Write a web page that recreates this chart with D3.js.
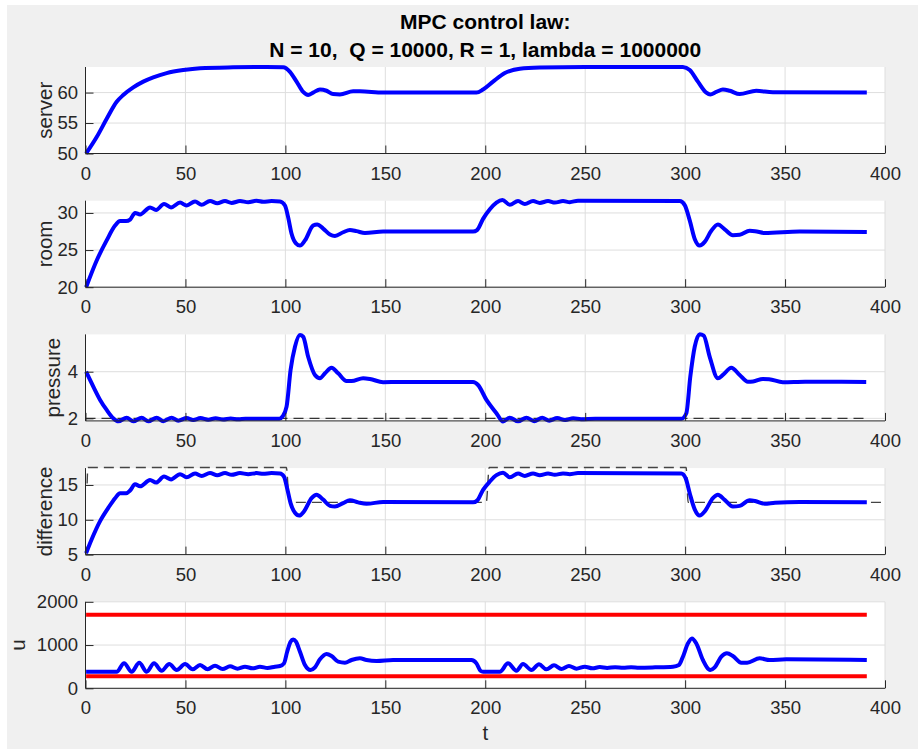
<!DOCTYPE html>
<html>
<head>
<meta charset="utf-8">
<script src="https://cdn.jsdelivr.net/npm/d3@7"></script>
<style>
  body { margin: 0; background: #fff; }
  svg text { font-family: "Liberation Sans", Arial, sans-serif; fill: #262626; }
</style>
</head>
<body>
<div id="chart"></div>
<script>
// values (t, value)
const titleLines = ['MPC control law:', 'N = 10,  Q = 10000, R = 1, lambda = 1000000']
const xTicks = [0, 50, 100, 150, 200, 250, 300, 350, 400]
const xLabel = 't'

const server = [[0.3,50],[5.6,52.7],[10.6,55.7],[15.6,58.5],[18.9,59.6],[23.9,60.85],[28.9,61.8],[33.9,62.5],[40.6,63.2],[48.9,63.7],[57.3,64.0],[73.9,64.15],[90.6,64.2],[98.9,64.15],[102.3,63.4],[105.6,61.8],[108.9,60.1],[111.4,59.6],[113.9,60.0],[117.3,60.5],[120.6,60.3],[123.9,59.75],[127.3,59.7],[133.9,60.2],[137.3,60.2],[148.9,60.0],[195.6,60.0],[198.9,60.5],[203.9,61.8],[209.8,63.2],[217.3,63.9],[227.3,64.1],[250,64.2],[298.9,64.2],[302.3,63.7],[306.4,61.8],[310.6,60.0],[312.6,59.7],[315.6,60.1],[318.9,60.5],[322.3,60.3],[327.3,59.75],[335.6,60.3],[343.9,60.05],[390.9,60.0]]

const room = [[0.3,20],[5.6,23.6],[10.6,26.3],[14.8,28.3],[17.3,28.9],[20.3,28.9],[22.3,29.1],[24.8,30.0],[27.3,29.8],[32.3,30.75],[35.3,30.4],[39.3,31.2],[42.8,30.75],[47.3,31.4],[50.6,31.0],[54.8,31.55],[58.1,31.1],[62.3,31.6],[65.9,31.3],[69.8,31.6],[73.1,31.35],[77.3,31.6],[81.4,31.45],[85.6,31.65],[88.9,31.5],[93.1,31.6],[97.3,31.55],[99.8,31.0],[101.4,29.4],[103.1,27.2],[105.3,25.9],[107.3,25.6],[109.8,26.3],[113.9,28.3],[115.9,28.45],[118.9,27.9],[122.3,27.1],[124.8,26.9],[128.9,27.4],[132.3,27.7],[135.6,27.55],[139.8,27.3],[148.9,27.5],[193.9,27.5],[195.9,27.7],[198.9,29.2],[202.3,30.5],[205.6,31.4],[208.6,31.75],[212.3,31.1],[216.4,31.6],[219.8,31.2],[223.9,31.6],[227.3,31.35],[231.4,31.6],[234.8,31.4],[238.9,31.6],[242.3,31.45],[246.4,31.65],[297.3,31.6],[299.8,31.05],[302.3,29.0],[304.8,26.5],[307.3,25.6],[309.8,26.1],[313.1,27.6],[316.4,28.45],[319.8,27.8],[323.9,27.0],[327.3,27.05],[332.3,27.6],[335,27.55],[339.8,27.3],[357.3,27.5],[390.9,27.45]]

const pressure = [[0.3,4.0],[3.9,3.36],[7.3,2.79],[10.6,2.36],[13.9,2.0],[16.4,1.87],[20.6,2.03],[23.9,1.87],[28.1,2.03],[31.4,1.87],[35.6,2.03],[38.9,1.88],[43.1,2.03],[46.4,1.9],[50.6,2.01],[53.9,1.93],[57.5,2.01],[61.4,1.94],[65.1,2.0],[68.9,1.95],[72.6,1.99],[76.4,1.96],[80,1.98],[97,1.98],[98.6,2.08],[100.6,2.5],[102.6,4.07],[104.8,5.07],[107.3,5.57],[108.9,5.5],[111.4,4.64],[114.8,3.86],[117.3,3.72],[119.8,3.93],[123.1,4.17],[126.4,3.93],[130.6,3.6],[133.1,3.6],[138.9,3.72],[142.3,3.69],[148.9,3.55],[157.3,3.56],[193.9,3.56],[196.4,3.43],[200.6,2.79],[205.6,2.22],[208.9,1.86],[212.3,2.03],[216.4,1.87],[220.6,2.03],[224.5,1.88],[228.5,2.02],[232,1.9],[236,2.01],[240,1.93],[244,2.0],[248,1.96],[255,1.98],[298.1,1.98],[300.6,2.22],[302.6,3.79],[304.8,5.07],[307.3,5.61],[309.3,5.55],[312.3,4.64],[316.4,3.72],[318.9,3.86],[323.1,4.17],[327.3,3.86],[331.4,3.57],[334,3.58],[338.9,3.69],[342,3.68],[348.9,3.55],[360,3.57],[390.6,3.56]]
const pressureRef = [[0,2],[390.6,2]]

const difference = [[0.3,5.2],[3.1,7.2],[7.3,9.8],[11.4,11.7],[14.8,13.1],[17.3,13.8],[20.3,13.8],[22.3,14.2],[24.8,15.1],[27.3,14.8],[32.3,15.7],[35.3,15.35],[39.3,16.2],[42.8,15.8],[47.3,16.55],[50.6,16.1],[54.8,16.65],[58.1,16.3],[62.3,16.7],[65.9,16.4],[69.8,16.7],[73.1,16.45],[77.3,16.7],[81.4,16.55],[85.6,16.7],[88.9,16.6],[93.1,16.7],[97.3,16.65],[99.3,16.2],[100.9,14.5],[102.6,12.4],[104.8,11.0],[106.9,10.6],[109.3,11.2],[113.1,13.1],[115.6,13.6],[118.9,12.9],[122.3,12.0],[124.8,11.9],[128.9,12.4],[132.3,12.8],[136.4,12.5],[140.6,12.3],[148.9,12.55],[193.9,12.5],[195.9,12.75],[198.9,14.3],[202.3,15.5],[205.6,16.4],[208.9,16.75],[212.3,16.1],[216.4,16.65],[219.8,16.3],[223.9,16.65],[227.3,16.4],[231.4,16.65],[234.8,16.45],[238.9,16.65],[242.3,16.55],[246.4,16.7],[298.1,16.65],[300.3,15.95],[302.3,13.8],[304.8,11.5],[307.3,10.6],[309.8,11.2],[313.9,13.1],[316.4,13.6],[319.8,12.85],[323.9,11.9],[327.3,12.0],[332.3,12.8],[335,12.7],[339.8,12.3],[345,12.45],[357.3,12.55],[390.9,12.5]]
const differenceRef = [[0.8,15.2],[1.2,17.5],[100.5,17.5],[102,12.5],[200.5,12.5],[202,17.5],[300.5,17.5],[301.5,12.5],[398,12.5]]

const u = [[0.3,383],[15.6,383],[19.3,580],[23.1,383],[26.9,591],[30.6,383],[34.3,577],[38.1,406],[41.9,562],[45.6,423],[49.8,560],[53.6,438],[57.3,539],[61.1,440],[64.8,523],[68.6,446],[72.3,508],[76.1,454],[79.8,500],[83.6,461],[87.3,500],[91.1,469],[94.8,500],[97.3,515],[99.3,577],[100.9,846],[102.6,1077],[103.9,1131],[105.3,1077],[107.3,846],[109.8,539],[112.6,423],[114.8,485],[117.3,669],[120.6,792],[123.1,746],[126.4,615],[129.8,592],[133.1,654],[137.3,692],[140.6,654],[145.6,631],[153.9,654],[193.1,654],[195.6,577],[197.6,406],[198.9,383],[207.3,383],[211.4,577],[215.6,406],[218.9,562],[223.1,423],[226.9,554],[230.6,438],[234.4,531],[238.1,446],[241.9,515],[245.6,454],[249.8,500],[253.6,461],[257.3,490],[261,470],[265,488],[269,474],[273,486],[277,477],[285,485],[293.9,500],[296.9,539],[298.9,731],[301.4,1038],[303.4,1154],[305.6,1038],[308.9,654],[312.6,423],[314.8,485],[318.1,731],[320.9,808],[323.9,746],[328.1,592],[331,590],[337.3,692],[342.3,654],[350.6,669],[390.9,654]]
const uMax = [[0.3,1700],[390.9,1700]]
const uMin = [[0.3,280],[390.9,280]]

const yLabels = ['server', 'room', 'pressure', 'difference', 'u']
const yDomains = [[50, 64.2], [20, 31.65], [1.89, 5.6], [5, 17.42], [0, 2000]]
const yTicks = [[50, 55, 60], [20, 25, 30], [2, 4], [5, 10, 15], [0, 1000, 2000]]

// layout
const W = 918, H = 749
const xLeft = 85.5, xRight = 885
const panelTop0 = 67, panelStep = 133.7, panelH = 86.5
const labelX = [51.5, 51.5, 59.5, 51.5, 25]
const fmt = d3.format('d')

const panels = [
  { lines: [{ data: server, color: '#0000ff', w: 4 }] },
  { lines: [{ data: room, color: '#0000ff', w: 4 }] },
  { lines: [{ data: pressureRef, color: '#333', w: 1.4, dash: '10,6' },
            { data: pressure, color: '#0000ff', w: 4 }] },
  { lines: [{ data: differenceRef, color: '#444', w: 1.4, dash: '10,6' },
            { data: difference, color: '#0000ff', w: 4 }] },
  { lines: [{ data: uMax, color: '#ff0000', w: 4 },
            { data: uMin, color: '#ff0000', w: 4 },
            { data: u, color: '#0000ff', w: 4 }] }
]

const svg = d3.select('#chart').append('svg')
  .attr('width', W).attr('height', H)

svg.append('rect').attr('x', 7).attr('y', 5)
  .attr('width', W - 7).attr('height', H - 5).attr('fill', '#f0f0f0')

const xScale = d3.scaleLinear().domain([0, 400]).range([xLeft, xRight])

panels.forEach((p, i) => {
  const top = panelTop0 + i * panelStep
  const bottom = top + panelH
  const yScale = d3.scaleLinear().domain(yDomains[i]).range([bottom, top])
  const g = svg.append('g')

  // plot area
  g.append('rect').attr('x', xLeft).attr('y', top)
    .attr('width', xRight - xLeft).attr('height', panelH).attr('fill', '#fff')

  // grid
  g.append('g').selectAll('line').data(xTicks).join('line')
    .attr('x1', d => xScale(d)).attr('x2', d => xScale(d))
    .attr('y1', top).attr('y2', bottom)
    .attr('stroke', '#dedede').attr('stroke-width', 1)
  g.append('g').selectAll('line').data(yTicks[i]).join('line')
    .attr('x1', xLeft).attr('x2', xRight)
    .attr('y1', d => yScale(d)).attr('y2', d => yScale(d))
    .attr('stroke', '#dedede').attr('stroke-width', 1)

  // series
  const lineGen = d3.line().x(d => xScale(d[0])).y(d => yScale(d[1]))
    .curve(d3.curveMonotoneX)
  p.lines.forEach(s => {
    g.append('path').attr('d', lineGen(s.data))
      .attr('fill', 'none').attr('stroke', s.color)
      .attr('stroke-width', s.w)
      .attr('stroke-dasharray', s.dash || null)
      .attr('stroke-linejoin', 'round')
  })

  // axes
  const xAxis = d3.axisBottom(xScale).tickValues(xTicks).tickFormat(fmt)
    .tickSizeInner(-8).tickSizeOuter(0).tickPadding(13)
  const xg = g.append('g').attr('transform', `translate(0,${bottom})`).call(xAxis)
  const yAxis = d3.axisLeft(yScale).tickValues(yTicks[i]).tickFormat(fmt)
    .tickSizeInner(-8).tickSizeOuter(0).tickPadding(7.5)
  const yg = g.append('g').attr('transform', `translate(${xLeft},0)`).call(yAxis)
  ;[xg, yg].forEach(a => {
    a.select('.domain').attr('stroke', '#262626').attr('stroke-width', 1)
    a.selectAll('.tick line').attr('stroke', '#262626')
    a.selectAll('.tick text').attr('fill', '#262626')
      .style('font-size', '18.5px').style('font-family', '"Liberation Sans", Arial, sans-serif')
  })
  xg.select('.domain').attr('d', `M${xLeft},0H${xRight}`)
  yg.select('.domain').attr('d', `M0,${top}V${bottom}`)

  // y label
  g.append('text')
    .attr('transform', `translate(${labelX[i]},${(top + bottom) / 2}) rotate(-90)`)
    .attr('text-anchor', 'middle')
    .style('font-size', '20.5px')
    .text(yLabels[i])
})

// x label
svg.append('text').attr('x', (xLeft + xRight) / 2).attr('y', 740)
  .attr('text-anchor', 'middle').style('font-size', '20.5px').text(xLabel)

// title
svg.append('g').selectAll('text').data(titleLines).join('text')
  .attr('x', (xLeft + xRight) / 2)
  .attr('y', (d, i) => 29.3 + i * 27.4)
  .attr('text-anchor', 'middle')
  .style('font-size', '21px').style('font-weight', 'bold')
  .style('white-space', 'pre').style('fill', '#000')
  .text(d => d)
</script>
</body>
</html>
